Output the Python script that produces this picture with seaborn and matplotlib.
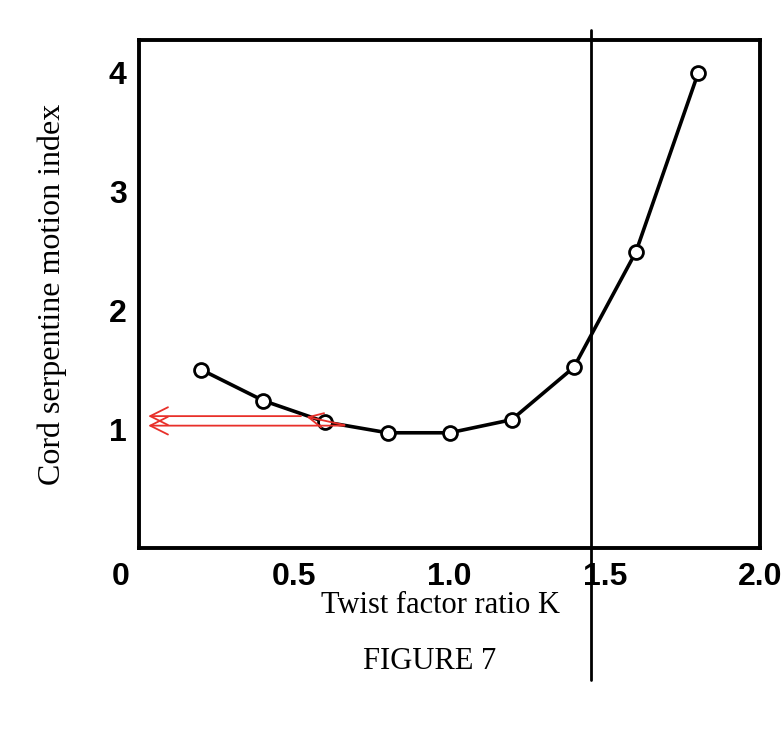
import pandas as pd
import matplotlib.pyplot as plt
import seaborn as sns

# Values
twist_ratio = [0.2, 0.4, 0.6, 0.8, 1.0, 1.2, 1.4, 1.6, 1.8]
motion_index = [1.50, 1.24, 1.06, 0.97, 0.97, 1.08, 1.52, 2.49, 3.99]
x_ticks = [0.5, 1.0, 1.5, 2.0]
x_tick_labels = ['0.5', '1.0', '1.5', '2.0']
y_ticks = [1, 2, 3, 4]
marker_k = 1.455
arrow_levels = [1.11, 1.03]

df = pd.DataFrame({'K': twist_ratio, 'index': motion_index})

sns.set_style('white')
plt.rcParams['font.family'] = ['Liberation Serif', 'DejaVu Serif']

fig = plt.figure(figsize=(7.82, 7.29), dpi=100)
ax = fig.add_axes([0.178, 0.248, 0.794, 0.697])

sns.lineplot(data=df, x='K', y='index', color='black', linewidth=2.6, ax=ax)
sns.scatterplot(data=df, x='K', y='index', s=100, facecolor='white',
                edgecolor='black', linewidth=2, zorder=3, ax=ax)

ax.set_xlim(0, 2.0)
ax.set_ylim(0, 4.27)

# vertical reference line running past the frame
ax.axvline(marker_k, ymin=-0.26, ymax=1.02, color='black', linewidth=2,
           clip_on=False)

# red arrows back to the axis
red = '#e8302a'
ax.annotate('', xy=(0.02, arrow_levels[0]), xytext=(0.53, arrow_levels[0]),
            arrowprops=dict(arrowstyle='->', color=red, lw=1.3,
                            mutation_scale=32))
ax.annotate('', xy=(0.02, arrow_levels[1]), xytext=(0.67, arrow_levels[1]),
            arrowprops=dict(arrowstyle='->', color=red, lw=1.3,
                            mutation_scale=32))
ax.annotate('', xy=(0.53, arrow_levels[0]), xytext=(0.67, arrow_levels[1]),
            arrowprops=dict(arrowstyle='->', color=red, lw=1.3,
                            mutation_scale=26))

for s in ax.spines.values():
    s.set_color('black')
    s.set_linewidth(2.8)

ax.set_xticks(x_ticks)
ax.set_xticklabels(x_tick_labels)
ax.set_yticks(y_ticks)
ax.tick_params(direction='in', length=6, width=2, color='black',
               labelcolor='black')
ax.tick_params(axis='x', pad=10)
ax.tick_params(axis='y', pad=9)
tick_font = ['Liberation Sans', 'DejaVu Sans']
for lab in ax.get_xticklabels() + ax.get_yticklabels():
    lab.set_family(tick_font)
    lab.set_fontweight('bold')
    lab.set_fontsize(23)

ax.text(-0.03, -0.028, '0', transform=ax.transAxes, ha='center', va='top',
        fontsize=23, fontweight='bold', family=tick_font, color='black')

ax.set_xlabel('Twist factor ratio K', fontsize=22, color='black')
ax.xaxis.set_label_coords(0.485, -0.085)
ax.set_ylabel('Cord serpentine motion index', fontsize=23, labelpad=30,
              color='black')
fig.text(0.55, 0.092, 'FIGURE 7', fontsize=22, ha='center', va='center',
         color='black')

plt.savefig('out.png', dpi=100)
